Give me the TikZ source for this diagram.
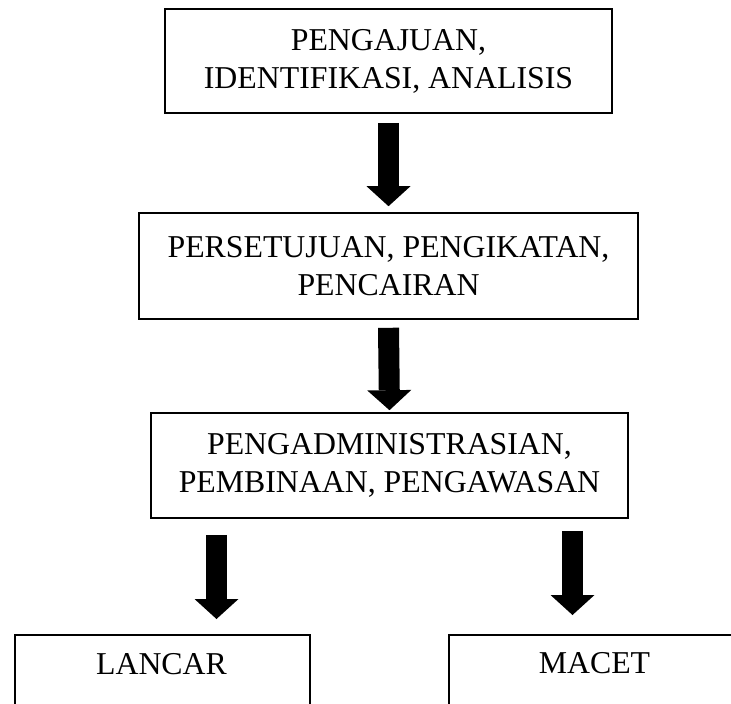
\documentclass[tikz,border=0pt]{standalone}
\usepackage{fontspec}
\setmainfont{Liberation Serif}
\usetikzlibrary{arrows.meta,calc}
\begin{document}
\begin{tikzpicture}[x=1pt,y=-1pt,
  box/.style={draw=black,line width=1.6pt,rectangle,inner sep=0pt},
  txt/.style={font=\fontsize{31.8}{38}\selectfont,align=center},
  blockarrow/.style={draw=black,line width=21pt,
    -{Triangle[width=44pt,length=20pt,line width=0pt]}}]
\clip (0,0) rectangle (731,704);
\fill[white] (0,0) rectangle (731,704);
% main boxes
\node[box,txt,minimum width=447pt,minimum height=104pt] (b1) at (388.5,61)
  {PENGAJUAN,\\IDENTIFIKASI, ANALISIS};
\node[box,txt,minimum width=499pt,minimum height=106pt] (b2) at (388.5,266)
  {PERSETUJUAN, PENGIKATAN,\\PENCAIRAN};
\node[box,txt,minimum width=477pt,minimum height=105pt] (b3) at (389.5,465.5)
  {PENGADMINISTRASIAN,\\PEMBINAAN, PENGAWASAN};
% bottom boxes (cut by the picture edge)
\node[box,minimum width=295pt,minimum height=110pt,anchor=north west] (lancar) at (14,634) {};
\node[txt,anchor=base] (lancart) at (161.5,674) {LANCAR};
\node[box,minimum width=293pt,minimum height=110pt,anchor=north west] (macet) at (448,634) {};
\node[txt,anchor=base] (macett) at (594.5,673) {MACET};
% arrow columns
\coordinate (la) at (216.5,0);
\coordinate (ra) at (572.5,0);
% connectors
\draw[blockarrow] ([yshift=-9pt]b1.south) -- ([yshift=6pt]b2.north);
\draw[blockarrow] ([yshift=-8pt]b2.south) -- ([yshift=2pt]b3.north);
\draw[blockarrow] ([yshift=-16pt]la |- b3.south) -- ([yshift=15pt]la |- lancar.north);
\draw[blockarrow] ([yshift=-12pt]ra |- b3.south) -- ([yshift=19pt]ra |- macet.north);
\end{tikzpicture}
\end{document}
